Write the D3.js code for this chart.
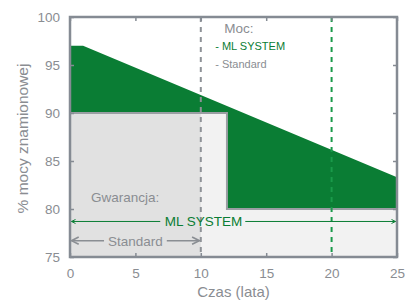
<!DOCTYPE html>
<html>
<head>
<meta charset="utf-8">
<script src="https://cdn.jsdelivr.net/npm/d3@7"></script>
<style>
  body { margin: 0; background: #fff; }
  text { font-family: "Liberation Sans", Arial, sans-serif; }
</style>
</head>
<body>
<div id="chart"></div>
<script>
// ML SYSTEM power curve (years, % of rated power)
var mlYears = [0, 1, 25];
var mlPower = [97, 97, 83.3];
// Standard guaranteed power steps
var stdYears = [0, 12, 12, 25];
var stdPower = [90, 90, 80, 80];
var warrantyStd = 10;
var warrantyMl = 25;
var xTicks = [0, 5, 10, 15, 20, 25];
var yTicks = [75, 80, 85, 90, 95, 100];

var svgWidth = 405, svgHeight = 302;
var margin = {top: 17, right: 8, bottom: 45, left: 70};
var width = svgWidth - margin.left - margin.right;
var height = svgHeight - margin.top - margin.bottom;

var green = "#0a7d34", grey = "#858b93", txtGrey = "#8a8d92";

var svg = d3.select("#chart").append("svg")
    .attr("width", svgWidth).attr("height", svgHeight)
    .append("g")
    .attr("transform", `translate(${margin.left}, ${margin.top})`);

var x = d3.scaleLinear().domain([0, 25]).range([0, width]);
var y = d3.scaleLinear().domain([75, 100]).range([height, 0]);

var std = stdYears.map((d, i) => ({t: d, p: stdPower[i]}));
var mlAt = t => d3.scaleLinear().domain(mlYears.slice(1)).range(mlPower.slice(1))(Math.max(t, 1));

// light grey area under standard
svg.append("path")
    .attr("d", d3.area().x(d => x(d.t)).y0(y(75)).y1(d => y(d.p))(std))
    .attr("fill", "#f2f2f2");
// darker grey for standard warranty period
svg.append("rect")
    .attr("x", x(0)).attr("y", y(90))
    .attr("width", x(warrantyStd) - x(0)).attr("height", y(75) - y(90))
    .attr("fill", "#e1e1e1");

// green area between standard and ML SYSTEM
var ts = [0, 1, 12, 12, 25];
var greenPts = ts.map((t, i) => ({t: t, top: mlAt(t), bot: (i == 3 || t > 12) ? 80 : 90}));
svg.append("path")
    .attr("d", d3.area().x(d => x(d.t)).y0(d => y(d.bot)).y1(d => y(d.top))(greenPts))
    .attr("fill", green);

// standard outline
svg.append("path")
    .attr("d", d3.line().x(d => x(d.t)).y(d => y(d.p))(std))
    .attr("fill", "none").attr("stroke", "#9a9ea3").attr("stroke-width", 2);

// dashed warranty lines
svg.append("line")
    .attr("x1", x(warrantyStd)).attr("x2", x(warrantyStd))
    .attr("y1", 0).attr("y2", height)
    .attr("stroke", "#8e9297").attr("stroke-width", 2).attr("stroke-dasharray", "5,5");
svg.append("line")
    .attr("x1", x(20)).attr("x2", x(20))
    .attr("y1", 0).attr("y2", height)
    .attr("stroke", "#1a9a4a").attr("stroke-width", 2).attr("stroke-dasharray", "5,5");

// axes (ticks inside, on all sides)
svg.append("g").attr("transform", `translate(0,${height})`)
    .call(d3.axisBottom(x).tickValues(xTicks).tickSizeInner(-4).tickSizeOuter(0).tickPadding(11));
svg.append("g")
    .call(d3.axisTop(x).tickValues(xTicks).tickSizeInner(-4).tickSizeOuter(0).tickFormat(""));
svg.append("g")
    .call(d3.axisLeft(y).tickValues(yTicks).tickSizeInner(-4).tickSizeOuter(0).tickPadding(10));
svg.append("g").attr("transform", `translate(${width},0)`)
    .call(d3.axisRight(y).tickValues(yTicks).tickSizeInner(-4).tickSizeOuter(0).tickFormat(""));
svg.selectAll(".domain").remove();
svg.selectAll(".tick line").attr("stroke", grey).attr("stroke-width", 1.5);
svg.selectAll(".tick text").attr("fill", txtGrey).style("font-size", "13.5px")
    .style("font-family", "Liberation Sans, Arial, sans-serif");
svg.append("rect").attr("width", width).attr("height", height)
    .attr("fill", "none").attr("stroke", grey).attr("stroke-width", 2.5);

// arrow markers
var defs = svg.append("defs");
function marker(id, color, w, sw) {
    defs.append("marker").attr("id", id).attr("viewBox", "0 0 10 10")
        .attr("refX", 9).attr("refY", 5).attr("markerWidth", w).attr("markerHeight", w)
        .attr("orient", "auto-start-reverse").attr("markerUnits", "userSpaceOnUse")
        .append("path").attr("d", "M1,1 L9,5 L1,9").attr("fill", "none")
        .attr("stroke", color).attr("stroke-width", sw);
}
marker("ag", green, 5, 2);
marker("ar", "#8a8e93", 9, 1.8);

// ML SYSTEM warranty arrow
var yMl = y(78.7);
svg.append("line").attr("x1", x(0) + 1.5).attr("x2", x(6.9)).attr("y1", yMl).attr("y2", yMl)
    .attr("stroke", green).attr("stroke-width", 1).attr("marker-start", "url(#ag)");
svg.append("line").attr("x1", x(13.4)).attr("x2", x(warrantyMl) - 1.5).attr("y1", yMl).attr("y2", yMl)
    .attr("stroke", green).attr("stroke-width", 1).attr("marker-end", "url(#ag)");
svg.append("text").attr("x", x(10.2)).attr("y", yMl + 5).attr("text-anchor", "middle")
    .attr("fill", green).style("font-size", "13.5px").text("ML SYSTEM");

// Standard warranty arrow
var ySt = y(76.7);
svg.append("line").attr("x1", x(0) + 1.5).attr("x2", x(2.6)).attr("y1", ySt).attr("y2", ySt)
    .attr("stroke", "#8a8e93").attr("stroke-width", 1.6).attr("marker-start", "url(#ar)");
svg.append("line").attr("x1", x(7.4)).attr("x2", x(warrantyStd) - 1.5).attr("y1", ySt).attr("y2", ySt)
    .attr("stroke", "#8a8e93").attr("stroke-width", 1.6).attr("marker-end", "url(#ar)");
svg.append("text").attr("x", x(5)).attr("y", ySt + 5).attr("text-anchor", "middle")
    .attr("fill", txtGrey).style("font-size", "13.5px").text("Standard");

svg.append("text").attr("x", x(1.6)).attr("y", y(80.7)).attr("fill", txtGrey)
    .style("font-size", "13.5px").text("Gwarancja:");

// legend
svg.append("text").attr("x", x(11.8)).attr("y", 16).attr("fill", txtGrey)
    .style("font-size", "13.5px").text("Moc:");
svg.append("text").attr("x", x(11.1)).attr("y", 33).attr("fill", green)
    .style("font-size", "11px").text("- ML SYSTEM");
svg.append("text").attr("x", x(11.1)).attr("y", 51).attr("fill", txtGrey)
    .style("font-size", "11px").text("- Standard");

// axis labels
svg.append("text").attr("x", x(12.5)).attr("y", height + 40).attr("text-anchor", "middle")
    .attr("fill", txtGrey).style("font-size", "15px").text("Czas (lata)");
svg.append("text").attr("transform", "rotate(-90)")
    .attr("x", -(138.5 - margin.top)).attr("y", -42).attr("text-anchor", "middle")
    .attr("fill", txtGrey).style("font-size", "15.5px").text("% mocy znamionowej");
</script>
</body>
</html>
